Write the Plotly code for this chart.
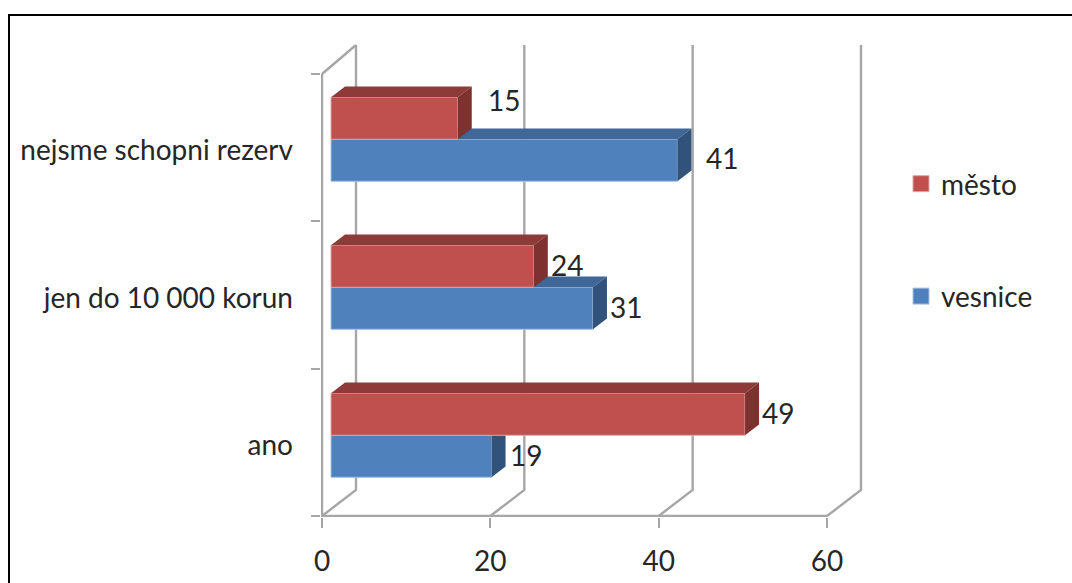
import plotly.graph_objects as go

# --- data ---
categories = ["ano", "jen do 10 000 korun", "nejsme schopni rezerv"]
vesnice = [19, 31, 41]
mesto = [49, 24, 15]
x_ticks = [0, 20, 40, 60]

# --- styling (pixels of the 1072x583 page) ---
W, H = 1072, 583
# front plane of the chart box
L, R, T, B = 322, 827, 74, 516
# plot area handed to plotly, large enough to hold the back wall
PL, PR, PT, PB = 321, 870, 40, 517
FONT = "Lato"
FS = 28
TXT = "#262626"
GRID = "#a6a6a6"
LW = 2.4

X_PX = (R - L) / (x_ticks[-1] - x_ticks[0])
Y_PX = (B - T) / len(categories)
x_range = [(PL - L) / X_PX, x_ticks[-1] + (PR - R) / X_PX]
y_range = [-0.5 + (B - PB) / Y_PX, -0.5 + (B - PT) / Y_PX]

# the bars sit on their own slightly different depth plane
BAR_PX = 8.45
BAR_LEFT = 331
BAR_Y_PX = 148
BAR_BASE_Y = 435.3
xb_range = [(PL - BAR_LEFT) / BAR_PX, (PR - BAR_LEFT) / BAR_PX]
yb_range = [(BAR_BASE_Y - PB) / BAR_Y_PX, (BAR_BASE_Y - PT) / BAR_Y_PX]
DX = 14 / BAR_PX
DY = 10.7 / BAR_Y_PX
BAR_W = 42 / BAR_Y_PX

series = [
    dict(name="vesnice", vals=vesnice, off=-BAR_W, ax="x2", face="#4F81BD", top="#3F6797", side="#31527B", edge="#a9c2e0"),
    dict(name="město", vals=mesto, off=0.0, ax="x3", face="#C0504D", top="#8E3A38", side="#7D3230", edge="#dba8a6"),
]
pos = list(range(len(categories)))

# label nudges in px from the bar end and bar centre
label_nudge = {
    "vesnice": [(34, 1), (33, 1), (45, 2)],
    "město": [(33, 1), (33, 1), (46, 18)],
}

fig = go.Figure()

# walls: gridlines running from the front floor to the back wall, plus the front axis lines
gx, gy = [], []
BACK_X = 34 / X_PX
BOT, TOP = pos[0] - 0.5, pos[-1] + 0.5
for t in x_ticks:
    gx += [t, t + BACK_X, t + BACK_X, None]
    gy += [BOT, BOT + 26 / Y_PX, TOP + 29 / Y_PX, None]
gx += [x_ticks[0], BACK_X, None, x_ticks[0], x_ticks[0], x_ticks[-1]]
gy += [TOP, TOP + 29 / Y_PX, None, TOP, BOT, BOT]
fig.add_trace(go.Scatter(x=gx, y=gy, mode="lines", line=dict(color=GRID, width=LW),
                         showlegend=False, hoverinfo="skip", xaxis="x", yaxis="y"))

annotations = []
for s in series:
    for p, v in zip(pos, s["vals"]):
        t = p + s["off"] + BAR_W
        b = p + s["off"]
        fig.add_trace(go.Scatter(x=[0, DX, v + DX, v, 0], y=[t, t + DY, t + DY, t, t], mode="lines",
                                 fill="toself", fillcolor=s["top"], line=dict(width=0, color=s["top"]),
                                 showlegend=False, hoverinfo="skip", xaxis=s["ax"], yaxis="y2"))
        fig.add_trace(go.Scatter(x=[v, v + DX, v + DX, v, v], y=[t, t + DY, b + DY, b, t], mode="lines",
                                 fill="toself", fillcolor=s["side"], line=dict(width=0, color=s["side"]),
                                 showlegend=False, hoverinfo="skip", xaxis=s["ax"], yaxis="y2"))
    fig.add_trace(go.Bar(y=pos, x=s["vals"], orientation="h", name=s["name"], base=0,
                         width=BAR_W, offset=s["off"],
                         marker=dict(color=s["face"], line=dict(color=s["edge"], width=1)),
                         showlegend=False, xaxis=s["ax"], yaxis="y2"))
    for p, v, (nx, ny) in zip(pos, s["vals"], label_nudge[s["name"]]):
        annotations.append(dict(x=v, y=p + s["off"] + BAR_W / 2, xref=s["ax"], yref="y2", text=str(v),
                                showarrow=False, xshift=nx, yshift=ny, xanchor="center", yanchor="middle",
                                font=dict(family=FONT, size=FS, color=TXT)))

# legend entries
for s, rank in zip(series, [2, 1]):
    fig.add_trace(go.Scatter(x=[None], y=[None], mode="markers", name=s["name"], legendgroup=s["name"],
                             legendrank=rank,
                             marker=dict(symbol="square", size=16, color=s["face"], line=dict(color=s["edge"], width=1)),
                             xaxis="x", yaxis="y"))

# outer frame: left and top edges only
frame_l, frame_t = 9, 15
def px(x):
    return (x - PL) / (PR - PL)
def py(y):
    return (PB - y) / (PB - PT)

fig.update_layout(
    width=W, height=H, autosize=False,
    margin=dict(l=PL, r=W - PR, t=PT, b=H - PB, pad=0, autoexpand=False),
    paper_bgcolor="white", plot_bgcolor="white",
    font=dict(family=FONT, size=FS, color=TXT),
    barmode="overlay",
    annotations=annotations,
    shapes=[dict(type="path", xref="paper", yref="paper", layer="below",
                 path=f"M{px(frame_l)},{py(600)} L{px(frame_l)},{py(frame_t)} L{px(W + 5)},{py(frame_t)}",
                 line=dict(color="black", width=2))],
    legend=dict(x=px(901), xanchor="left", y=py(159), yanchor="top",
                traceorder="grouped", tracegroupgap=73, itemsizing="trace",
                font=dict(family=FONT, size=FS, color=TXT), bgcolor="rgba(0,0,0,0)"),
    xaxis=dict(range=x_range, tickmode="array", tickvals=x_ticks, ticks="outside", ticklen=10,
               tickwidth=2, tickcolor=GRID, showline=False, showgrid=False, zeroline=False,
               automargin=False, ticklabelstandoff=9, tickfont=dict(family=FONT, size=FS, color=TXT)),
    xaxis2=dict(range=xb_range, overlaying="x", visible=False, automargin=False),
    xaxis3=dict(range=xb_range, overlaying="x", visible=False, automargin=False),
    yaxis=dict(range=y_range, tickmode="array", tickvals=pos, ticktext=categories, ticks="",
               minor=dict(tickmode="array", tickvals=[-0.5, 0.5, 1.5, 2.5], ticks="outside", ticklen=9,
                          tickwidth=2, tickcolor=GRID, showgrid=False),
               showline=False, showgrid=False, zeroline=False,
               automargin=False, ticklabelstandoff=27, ticklabelshift=3, tickfont=dict(family=FONT, size=FS, color=TXT)),
    yaxis2=dict(range=yb_range, overlaying="y", visible=False, automargin=False),
)
fig.write_html("out.html", config={"displayModeBar": False},
               post_script="document.body.style.margin='0';document.body.style.overflow='hidden';")
